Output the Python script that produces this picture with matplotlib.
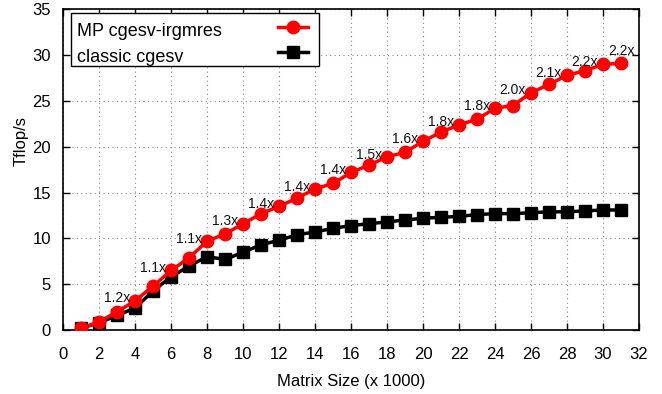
import matplotlib
matplotlib.use("Agg")
import matplotlib.pyplot as plt
from matplotlib.patches import Rectangle
from matplotlib.lines import Line2D

plt.rcParams['font.family'] = ['Liberation Sans', 'DejaVu Sans']

sizes = list(range(1, 32))
mp_irgmres = [0.2, 0.9, 2.0, 3.2, 4.8, 6.5, 7.9, 9.7, 10.5, 11.6, 12.7, 13.5, 14.4, 15.4, 16.0,
              17.2, 18.0, 18.9, 19.4, 20.6, 21.6, 22.4, 23.0, 24.2, 24.5, 25.9, 26.8, 27.8, 28.3, 29.0, 29.1]
classic = [0.2, 0.8, 1.6, 2.4, 4.3, 5.8, 7.0, 8.0, 7.7, 8.5, 9.3, 9.8, 10.4, 10.7, 11.1,
           11.4, 11.6, 11.8, 12.0, 12.2, 12.3, 12.4, 12.6, 12.7, 12.7, 12.8, 12.9, 12.9, 13.0, 13.1, 13.1]
speedup_at = [4, 6, 8, 10, 12, 14, 16, 18, 20, 22, 24, 26, 28, 30, 31]
speedup_labels = ['1.2x', '1.1x', '1.1x', '1.3x', '1.4x', '1.4x', '1.4x', '1.5x', '1.6x',
                  '1.8x', '1.8x', '2.0x', '2.1x', '2.2x', '2.2x']
series_labels = ['MP cgesv-irgmres', 'classic cgesv']
xticks = list(range(0, 33, 2))
yticks = list(range(0, 36, 5))

fig = plt.figure(figsize=(6.62, 3.94), dpi=100)
ax = fig.add_axes([0.0956, 0.1624, 0.8697, 0.814])

red_style = dict(color='#ff0000', lw=2.5, marker='o', ms=9)
black_style = dict(color='black', lw=2.5, marker='s', ms=8.5)

ax.plot(sizes, mp_irgmres, zorder=4, **red_style)
ax.plot(sizes, classic, zorder=3, **black_style)

for xs, lab in zip(speedup_at, speedup_labels):
    yv = mp_irgmres[sizes.index(xs)]
    if xs == sizes[-1]:
        ax.text(xs, yv + 1.3, lab, ha='center', va='center', fontsize=10, color='#111111', zorder=5)
    else:
        ax.text(xs - 0.3, yv + 0.25, lab, ha='right', va='center', fontsize=10, color='#111111', zorder=5)

ax.set_xlim(0, 32)
ax.set_ylim(0, 35)
ax.set_xticks(xticks)
ax.set_yticks(yticks)
ax.tick_params(direction='in', length=5, width=1, top=True, right=True,
               labelsize=12, pad=9)
ax.tick_params(axis='x', pad=12)
ax.grid(True, color='#888888', linestyle=(0, (1, 3)), lw=0.8)
for s in ax.spines.values():
    s.set_linewidth(1.2)

ax.set_xlabel('Matrix Size (x 1000)', fontsize=12, labelpad=9)
ax.set_ylabel('Tflop/s', fontsize=12, va='center', ha='center')
ax.yaxis.set_label_coords(-0.074, 0.588)

# gnuplot-style key: text left, sample right, boxed
tr = ax.transAxes
ax.add_patch(Rectangle((0.0134, 0.824), 0.4306, 0.1635, transform=tr, facecolor='white',
                       edgecolor='black', lw=1, zorder=10, clip_on=False))
for lab, sty, ty, ly in [(series_labels[0], red_style, 0.9167, 0.9457),
                         (series_labels[1], black_style, 0.8366, 0.8659)]:
    ax.text(0.0238, ty, lab, transform=tr, fontsize=13, ha='left', va='baseline', zorder=11)
    ax.add_line(Line2D([0.3735, 0.4256], [ly, ly], transform=tr, color=sty['color'],
                       lw=sty['lw'], zorder=11, clip_on=False))
    ax.add_line(Line2D([0.399], [ly], transform=tr, color=sty['color'], marker=sty['marker'],
                       ms=sty['ms'], lw=0, zorder=11, clip_on=False))

fig.savefig('out.png', dpi=100)
